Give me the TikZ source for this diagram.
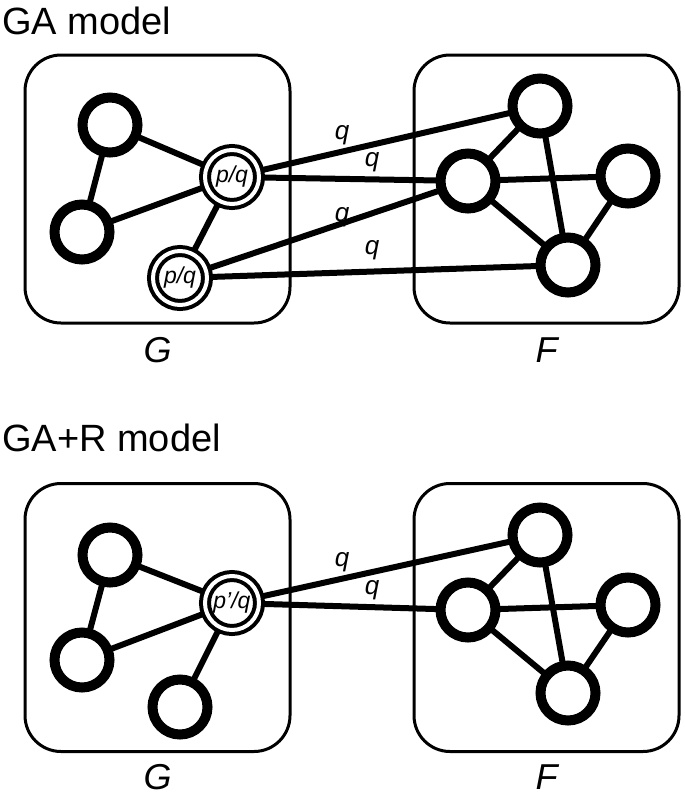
\documentclass[tikz,border=0pt]{standalone}
\usepackage{fontspec}
\setmainfont{Liberation Sans}
\pgfdeclarelayer{bg}
\pgfsetlayers{bg,main}
\begin{document}
\begin{tikzpicture}[x=1pt,y=-1pt,
  vtx/.style={circle,draw,fill=white,line width=10pt,minimum size=55pt,inner sep=0pt},
  pq/.style={circle,draw,double=white,double distance=4pt,line width=4pt,fill=white,minimum size=54pt,inner sep=0pt,font=\fontsize{23}{23}\selectfont\itshape},
  grp/.style={draw,line width=3pt,rounded corners=36pt,minimum width=265pt,minimum height=268pt,inner sep=0pt},
  edge/.style={line width=6pt},
  ttl/.style={anchor=base west,inner sep=0pt,font=\fontsize{38}{40}\selectfont},
  lbl/.style={inner sep=0pt,font=\fontsize{36}{36}\selectfont\itshape},
  ql/.style={inner sep=0pt,font=\fontsize{26}{26}\selectfont\itshape}]
\useasboundingbox (0,0) rectangle (685,798);

% ---------- GA model ----------
\node[ttl] (t1) at (2,34) {GA model};
\node[vtx] (a1) at (110,125) {};
\node[vtx] (a2) at (82,232) {};
\node[pq]  (p1) at (232,177) {p/q};
\node[pq]  (p2) at (180,278) {p/q};
\node[vtx] (f1) at (540,106) {};
\node[vtx] (f2) at (468,181) {};
\node[vtx] (f3) at (628,176) {};
\node[vtx] (f4) at (568,265) {};
\node[lbl] (lg1) at (157.5,350) {G};
\node[lbl] (lf1) at (546.5,350) {F};
\node[ql] (q1) at (342,135) {q};
\node[ql] (q2) at (372,162) {q};
\node[ql] (q3) at (342,217) {q};
\node[ql] (q4) at (372,250) {q};

% ---------- GA+R model ----------
\node[ttl] (t2) at (2,451) {GA+R model};
\node[vtx] (b1) at (110,555) {};
\node[vtx] (b2) at (82,660) {};
\node[pq]  (pp) at (232,603) {p{\char"0027}/q};
\node[vtx] (b3) at (180,707) {};
\node[vtx] (g1) at (540,535) {};
\node[vtx] (g2) at (468,610) {};
\node[vtx] (g3) at (628,605) {};
\node[vtx] (g4) at (568,693) {};
\node[lbl] (lg2) at (157.5,777) {G};
\node[lbl] (lf2) at (546.5,777) {F};
\node[ql] (q5) at (342,562) {q};
\node[ql] (q6) at (372,590) {q};

\begin{pgfonlayer}{bg}
  \node[grp] (boxg1) at (157.5,189) {};
  \node[grp] (boxf1) at (546.5,189) {};
  \node[grp] (boxg2) at (157.5,617.5) {};
  \node[grp] (boxf2) at (546.5,617.5) {};
  % top edges
  \draw[edge] (a1.center) -- (a2.center);
  \draw[edge] (a1.center) -- (p1.center);
  \draw[edge] (a2.center) -- (p1.center);
  \draw[edge] (p1.center) -- (p2.center);
  \draw[edge] (p1.center) -- (f1.center);
  \draw[edge] (p1.center) -- (f2.center);
  \draw[edge] (p2.center) -- (f2.center);
  \draw[edge] (p2.center) -- (f4.center);
  \draw[edge] (f1.center) -- (f2.center);
  \draw[edge] (f1.center) -- (f4.center);
  \draw[edge] (f2.center) -- (f3.center);
  \draw[edge] (f2.center) -- (f4.center);
  \draw[edge] (f3.center) -- (f4.center);
  % bottom edges
  \draw[edge] (b1.center) -- (b2.center);
  \draw[edge] (b1.center) -- (pp.center);
  \draw[edge] (b2.center) -- (pp.center);
  \draw[edge] (pp.center) -- (b3.center);
  \draw[edge] (pp.center) -- (g1.center);
  \draw[edge] (pp.center) -- (g2.center);
  \draw[edge] (g1.center) -- (g2.center);
  \draw[edge] (g1.center) -- (g4.center);
  \draw[edge] (g2.center) -- (g3.center);
  \draw[edge] (g2.center) -- (g4.center);
  \draw[edge] (g3.center) -- (g4.center);
\end{pgfonlayer}
\end{tikzpicture}
\end{document}
